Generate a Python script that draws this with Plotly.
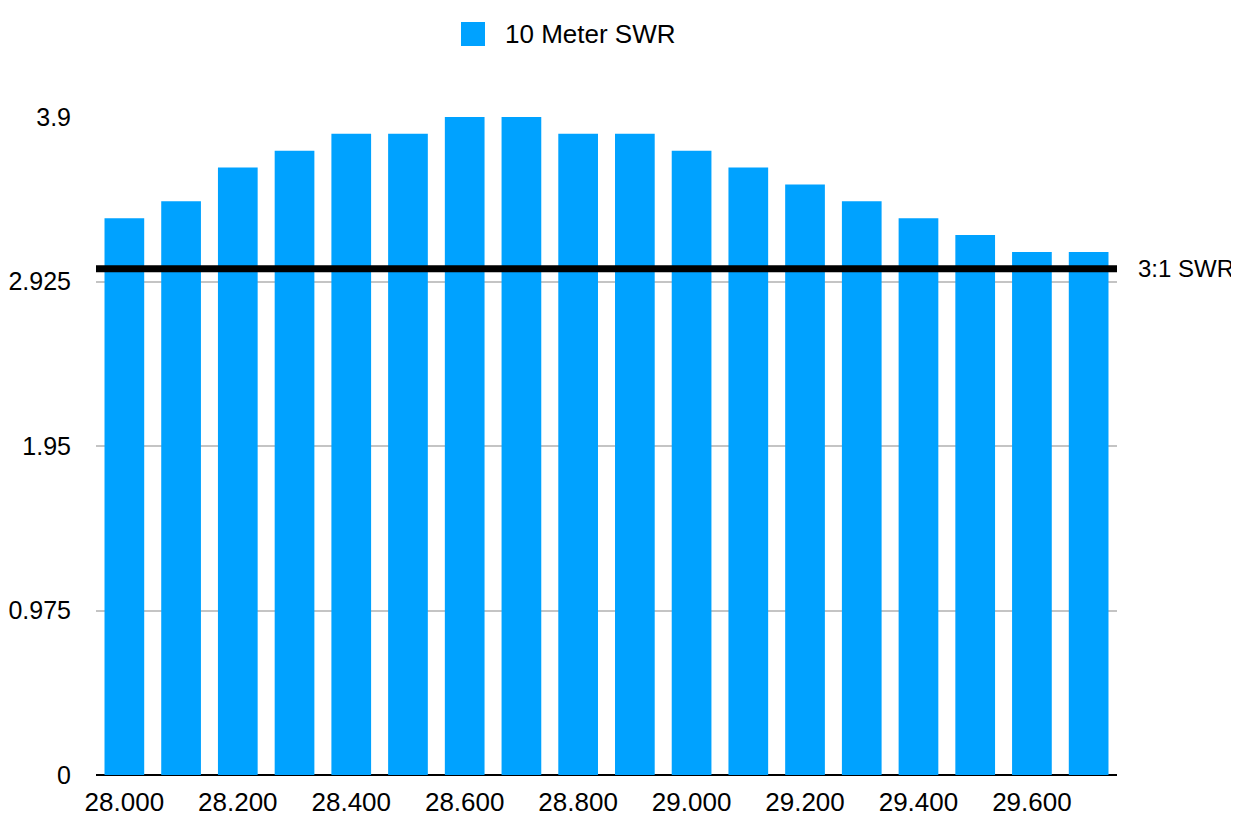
import plotly.graph_objects as go

# frequency (MHz) and measured SWR
freqs = [28.0, 28.1, 28.2, 28.3, 28.4, 28.5, 28.6, 28.7, 28.8,
         28.9, 29.0, 29.1, 29.2, 29.3, 29.4, 29.5, 29.6, 29.7]
swr = [3.3, 3.4, 3.6, 3.7, 3.8, 3.8, 3.9, 3.9, 3.8,
       3.8, 3.7, 3.6, 3.5, 3.4, 3.3, 3.2, 3.1, 3.1]
series_name = '10 Meter SWR'

x_ticks = [28.0, 28.2, 28.4, 28.6, 28.8, 29.0, 29.2, 29.4, 29.6]
y_ticks = [0, 0.975, 1.95, 2.925, 3.9]
y_ticktext = ['0', '0.975', '1.95', '2.925', '3.9']

swr_limit = 3.0
limit_label = '3:1 SWR'

bar_color = '#00a2ff'
font = 'Liberation Sans, Arial, Helvetica, sans-serif'

fig = go.Figure()
fig.add_trace(go.Bar(
    x=freqs, y=swr, name=series_name,
    marker=dict(color=bar_color, line=dict(width=0)),
    width=0.07,
    showlegend=False,
))

fig.add_hline(y=swr_limit, line=dict(color='black', width=7), layer='above')

# legend drawn by hand so the swatch is the same size as in the original
fig.add_shape(type='rect', xref='paper', yref='paper',
              x0=0.3575, x1=0.3810, y0=1.1079, y1=1.1444,
              fillcolor=bar_color, line=dict(width=0))
fig.add_annotation(text=series_name, xref='paper', yref='paper',
                   x=0.3986, y=1.1261, xanchor='left', yanchor='middle',
                   showarrow=False, font=dict(size=26, color='black', family=font))

fig.add_annotation(text=limit_label, xref='paper', yref='y',
                   x=1.0186, y=swr_limit, xanchor='left', yanchor='middle',
                   showarrow=False, font=dict(size=24, color='black', family=font))

fig.update_layout(
    width=1239, height=822,
    margin=dict(l=88, r=130, t=109, b=55),
    plot_bgcolor='white', paper_bgcolor='white',
    font=dict(family=font, size=26, color='black'),
    bargap=0.3,
    xaxis=dict(
        range=[27.95, 29.75], tickvals=x_ticks, tickformat='.3f',
        showgrid=False, zeroline=False, showline=False,
        ticks='', ticklabelstandoff=9, automargin=False,
    ),
    yaxis=dict(
        range=[0, 3.9], tickvals=y_ticks, ticktext=y_ticktext,
        showgrid=True, gridcolor='#c4c4c4', gridwidth=2,
        zeroline=True, zerolinecolor='black', zerolinewidth=2,
        ticks='', ticklabelstandoff=24, automargin=False,
        tickfont=dict(size=25),
    ),
)

fig.write_html('out.html')
